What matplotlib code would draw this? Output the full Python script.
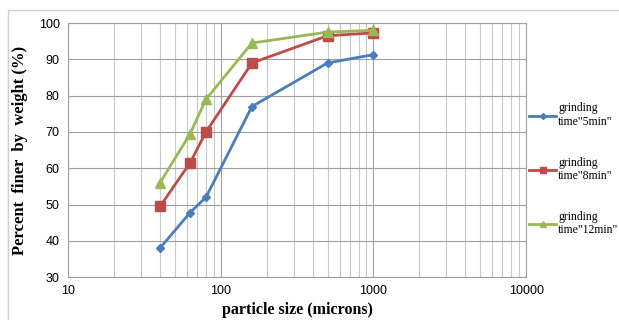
import matplotlib
matplotlib.use('Agg')
import matplotlib.pyplot as plt
from matplotlib.ticker import NullFormatter
from matplotlib.lines import Line2D

# data
sizes = [40, 63, 80, 160, 500, 1000]
t5 = [38, 47.8, 52, 77, 89, 91.3]
t8 = [49.5, 61.5, 70, 89, 96.5, 97.3]
t12 = [56, 69.5, 79, 94.5, 97.5, 98]
labels = ['grinding\ntime"5min"', 'grinding\ntime"8min"', 'grinding\ntime"12min"']
colors = ['#4a7ebb', '#be4b48', '#98b954']

fig = plt.figure(figsize=(6.19, 3.2), dpi=100)
ax = fig.add_axes([0.110, 0.134, 0.740, 0.794])

# frame around whole chart
fig.patches.append(plt.Rectangle((0.013, -0.1), 1.2, 1.068, transform=fig.transFigure,
                                 fill=False, edgecolor='#d0d0d0', linewidth=1))

ax.plot(sizes, t5, color=colors[0], marker='D', markersize=4, linewidth=2)
ax.plot(sizes, t8, color=colors[1], marker='s', markersize=7, linewidth=2)
ax.plot(sizes, t12, color=colors[2], marker='^', markersize=7, linewidth=2)

ax.set_xscale('log')
ax.set_xlim(10, 10000)
ax.set_ylim(30, 100)
ax.set_yticks(range(30, 101, 10))
ax.set_xticks([10, 100, 1000, 10000])
ax.set_xticklabels(['10', '100', '1000', '10000'])
ax.xaxis.set_minor_formatter(NullFormatter())
ax.grid(True, which='major', color='#a0a0a0', linewidth=0.8)
ax.grid(True, which='minor', axis='x', color='#c8c8c8', linewidth=0.8)
ax.tick_params(which='both', length=0, labelsize=9, pad=6)
for lab in ax.get_xticklabels() + ax.get_yticklabels():
    lab.set_family('Liberation Sans')
for sp in ax.spines.values():
    sp.set_color('#a0a0a0')

ax.set_xlabel('particle size (microns)', family='Liberation Serif', fontweight='bold',
              fontsize=11.5, labelpad=3)
ax.set_ylabel('Percent  finer  by  weight (%)', family='Liberation Serif', fontweight='bold',
              fontsize=12, labelpad=8)

# legend handles with small markers
handles = [Line2D([], [], color=colors[0], marker='D', markersize=3, linewidth=2),
           Line2D([], [], color=colors[1], marker='s', markersize=5, linewidth=2),
           Line2D([], [], color=colors[2], marker='^', markersize=5, linewidth=2)]
fig.legend(handles, labels, loc='upper left', bbox_to_anchor=(0.855, 0.68), frameon=False,
           prop={'family': 'Liberation Serif', 'size': 8.5}, labelspacing=2.4,
           handlelength=2.3, handletextpad=0.15, borderpad=0, borderaxespad=0)

fig.savefig('out.png', dpi=100)
